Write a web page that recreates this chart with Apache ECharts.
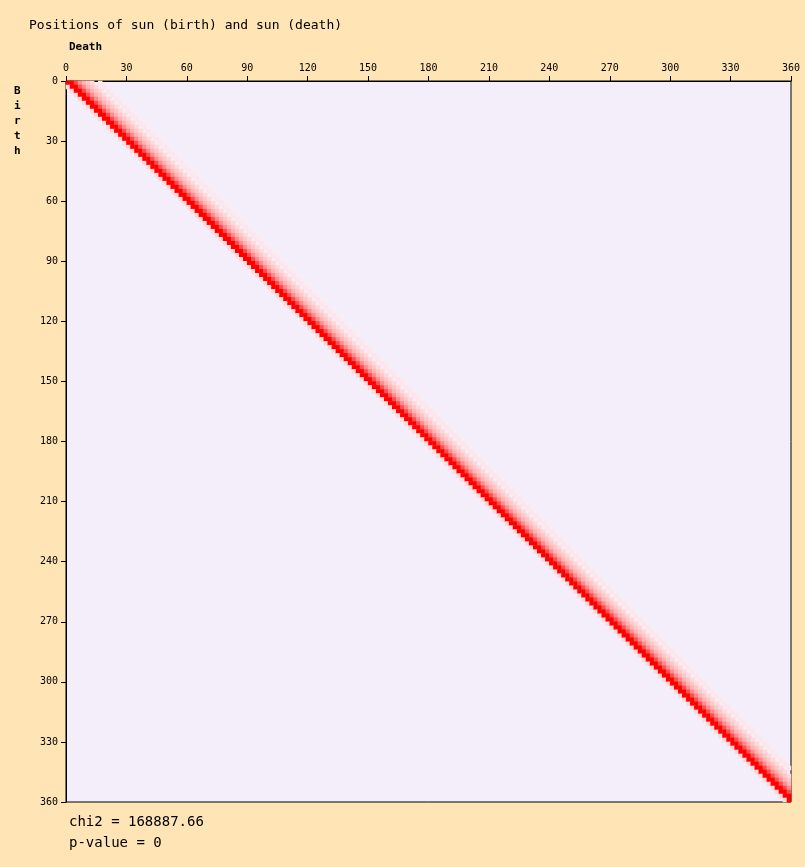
<!DOCTYPE html>
<html><head><meta charset="utf-8">
<script src="https://cdn.jsdelivr.net/npm/echarts@6/dist/echarts.min.js"></script>
<style>body{margin:0;background:#FFE4B5}#c{width:805px;height:867px}</style></head>
<body><div id="c"></div>
<script>
// 2-degree bins, 180 x 180
const nBins = 180;
const tickLabels = [0,30,60,90,120,150,180,210,240,270,300,330,360];
// excess relative to expectation just above/right of the diagonal (offset in bins)
const bandOffsets = [-1,0,1,2,3,4,5,6,8];
const bandValues  = [0.15,1.0,1.0,0.7,0.45,0.3,0.22,0.15,0.1];
const chiText = "chi2 = 168887.66";
const pText = "p-value = 0";

const cats = Array.from({length:nBins},(_,i)=>i);
const data = [];
for (let r=0;r<nBins;r++){
  for (let k=0;k<bandOffsets.length;k++){
    const c = r + bandOffsets[k];
    if (c >= 0 && c < nBins) data.push([c, r, bandValues[k]]);
  }
}
const mono = "DejaVu Sans Mono";
const chart = echarts.init(document.getElementById('c'));
const rect = {left:66, top:81, width:725, height:721};
chart.setOption({
  backgroundColor:'#FFE4B5',
  animation:false,
  title:{text:'Positions of sun (birth) and sun (death)', left:24, top:14,
    textStyle:{fontFamily:mono, fontSize:13, fontWeight:'normal', color:'#000'}},
  graphic:[
    {type:'rect', z:-1, silent:true, shape:{x:rect.left,y:rect.top,width:rect.width,height:rect.height}, style:{fill:'#f3eefa', stroke:'#000', lineWidth:1}},
    {type:'text', left:69, top:42, style:{text:'Death', font:'bold 11px '+mono, fill:'#000'}},
    {type:'text', left:14, top:84, style:{text:'B\ni\nr\nt\nh', font:'bold 11px '+mono, fill:'#000', lineHeight:15}},
    {type:'text', left:69, top:815, style:{text:chiText, font:'14px '+mono, fill:'#000'}},
    {type:'text', left:69, top:836, style:{text:pText, font:'14px '+mono, fill:'#000'}}
  ],
  grid:[Object.assign({},rect),Object.assign({},rect)],
  xAxis:[
    {type:'category', data:cats, gridIndex:0, show:false},
    {type:'value', gridIndex:1, min:0, max:360, interval:30, position:'top',
      axisLine:{lineStyle:{color:'#000'}}, axisTick:{lineStyle:{color:'#000'}},
      splitLine:{show:false}, axisLabel:{fontFamily:mono, fontSize:10, color:'#000'}}
  ],
  yAxis:[
    {type:'category', data:cats, gridIndex:0, inverse:true, show:false},
    {type:'value', gridIndex:1, min:0, max:360, interval:30, inverse:true,
      axisLine:{show:true, lineStyle:{color:'#000'}}, axisTick:{show:true, lineStyle:{color:'#000'}},
      splitLine:{show:false}, axisLabel:{fontFamily:mono, fontSize:10, color:'#000'}}
  ],
  visualMap:{show:false, min:-1, max:1, seriesIndex:0,
    inRange:{color:['#2222ff','#ffffff','#ff0000']}},
  series:[
    {type:'heatmap', xAxisIndex:0, yAxisIndex:0, data:data, itemStyle:{borderWidth:0}},
    {type:'scatter', xAxisIndex:1, yAxisIndex:1, data:[], silent:true}
  ]
});
</script></body></html>
